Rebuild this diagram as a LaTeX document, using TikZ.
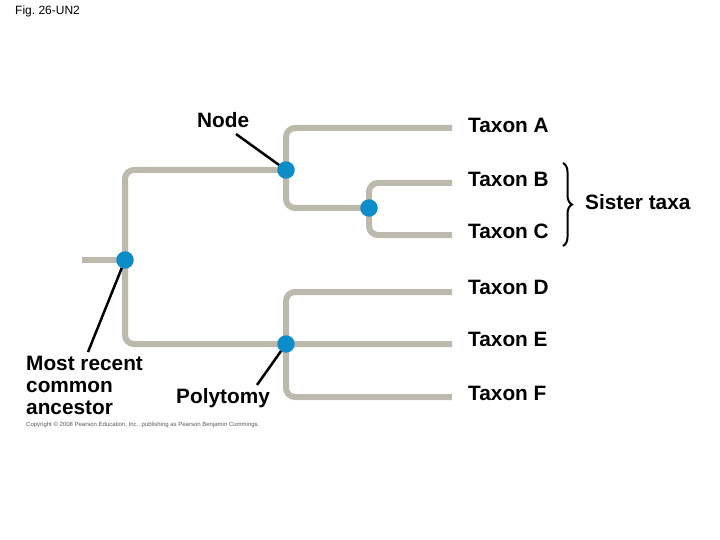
\documentclass[tikz,border=0pt]{standalone}
\usepackage{fontspec}
\setmainfont{Liberation Sans}
\usetikzlibrary{decorations.pathreplacing}
\definecolor{branch}{RGB}{188,186,172}
\definecolor{dotblue}{RGB}{12,140,200}
\definecolor{copygray}{RGB}{90,90,90}
\begin{document}
\begin{tikzpicture}[x=1pt,y=-1pt,
  br/.style={draw=branch,line width=6pt,rounded corners=9pt},
  dotnode/.style={circle,fill=dotblue,minimum size=17.5pt,inner sep=0pt},
  lbl/.style={font=\fontsize{20.8}{22}\selectfont\bfseries,inner sep=0pt,anchor=base west},
  ptr/.style={draw=black,line width=2.5pt},
  bracestyle/.style={draw=black,line width=2pt,decorate,decoration={brace,amplitude=9pt}}]
\useasboundingbox (0,0) rectangle (720,540);
\fill[white] (0,0) rectangle (720,540);

% branch coordinates
\coordinate (stem) at (82,260);
\coordinate (tA) at (452,128);
\coordinate (tB) at (452,183);
\coordinate (tC) at (452,235);
\coordinate (tD) at (452,292);
\coordinate (tE) at (452,344);
\coordinate (tF) at (452,397);

% branches
\draw[br] (stem) -- (125,260);
\draw[br] (286,170) -- (125,170) -- (125,344) -- (tE);
\draw[br] (tA) -- (286,128) -- (286,208) -- (369,208);
\draw[br] (tB) -- (369,183) -- (369,235) -- (tC);
\draw[br] (tD) -- (286,292) -- (286,397) -- (tF);

% labels
\node[lbl] (labA) at (468,133) {Taxon A};
\node[lbl] (labB) at (468,187) {Taxon B};
\node[lbl] (labC) at (468,238) {Taxon C};
\node[lbl] (labD) at (468,294) {Taxon D};
\node[lbl] (labE) at (468,346) {Taxon E};
\node[lbl] (labF) at (468,400) {Taxon F};
\node[lbl] (sister) at (585,210) {Sister taxa};
\node[lbl] (nodelab) at (197,128) {Node};
\node[lbl] (poly) at (176,403) {Polytomy};
\node[lbl] (mrca1) at (26,370) {Most recent};
\node[lbl] (mrca2) at (26,392) {common};
\node[lbl] (mrca3) at (26,414) {ancestor};
\node[font=\fontsize{12}{14}\selectfont,inner sep=0pt,anchor=base west] (fig) at (15,15) {Fig.\ 26-UN2};
\node[font=\fontsize{6}{7}\selectfont,text=copygray,inner sep=0pt,anchor=base west] (copy) at (26,426) {Copyright © 2008 Pearson Education, Inc., publishing as Pearson Benjamin Cummings.};

% pointer free ends
\coordinate (pn) at (236,134);
\coordinate (pm) at (88,352);
\coordinate (pp) at (257,385);

% tree node positions
\coordinate (root) at (125,260);
\coordinate (n1) at (286,170);
\coordinate (n2) at (369,208);
\coordinate (n3) at (286,344);

% pointers
\draw[ptr] (pn) -- (n1);
\draw[ptr] (pm) -- (root);
\draw[ptr] (pp) -- (n3);

% dots on top
\node[dotnode] (droot) at (root) {};
\node[dotnode] (dn1) at (n1) {};
\node[dotnode] (dn2) at (n2) {};
\node[dotnode] (dn3) at (n3) {};

% brace
\coordinate (brtop) at (563,163);
\coordinate (brbot) at (563,246);
\draw[bracestyle] (brtop) -- (brbot);
\end{tikzpicture}
\end{document}
